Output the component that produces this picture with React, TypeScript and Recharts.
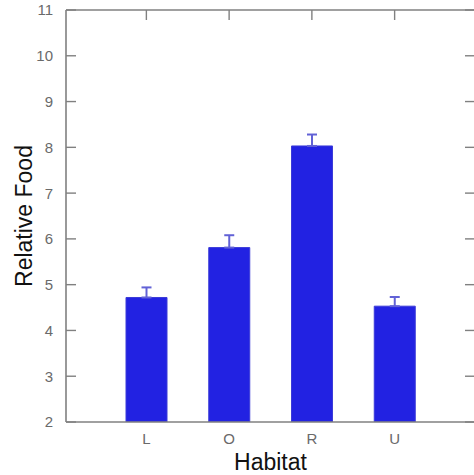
import {
  Bar,
  BarChart,
  ErrorBar,
  XAxis,
  YAxis,
} from "recharts";

const habitats = ["L", "O", "R", "U"];
const meanFood = [4.72, 5.81, 8.03, 4.53];
const stdErr = [0.22, 0.27, 0.25, 0.2];
const yTicks = [2, 3, 4, 5, 6, 7, 8, 9, 10, 11];

const AXIS = "#808080";
const BAR = "#2222e2";
const ERR = "#6262d6";
const FONT = "'Liberation Sans', Arial, sans-serif";
const TICK_LEN = 10;
const LEFT_GAP = 13;

const data = habitats.map((h, i) => ({
  habitat: h,
  food: meanFood[i],
  // only the upper whisker is drawn
  err: [0, stdErr[i]],
}));

// inward tick mark + label for the left axis
function LeftTick(props: any) {
  const { x, y, payload } = props;
  return (
    <g>
      <line
        x1={x + LEFT_GAP}
        x2={x + LEFT_GAP + TICK_LEN}
        y1={y}
        y2={y}
        stroke={AXIS}
        strokeWidth={1.4}
      />
      <text
        x={x}
        y={y}
        dy="0.36em"
        textAnchor="end"
        fill="#6a6a6a"
        fontSize={15}
        fontFamily={FONT}
      >
        {payload.value}
      </text>
    </g>
  );
}

function TopTick(props: any) {
  const { x, y } = props;
  return (
    <line x1={x} x2={x} y1={y} y2={y + TICK_LEN} stroke={AXIS} strokeWidth={1.4} />
  );
}

function RightTick(props: any) {
  const { x, y } = props;
  return (
    <line x1={x - TICK_LEN} x2={x} y1={y} y2={y} stroke={AXIS} strokeWidth={1.4} />
  );
}

export default function App() {
  return (
    <div
      style={{
        position: "absolute",
        left: 0,
        top: 0,
        width: 474,
        height: 475,
        overflow: "hidden",
        background: "#fff",
        fontFamily: FONT,
      }}
    >
      <BarChart
        width={476}
        height={475}
        data={data}
        margin={{ top: 9, right: 0, left: 0, bottom: 0 }}
      >
        <XAxis
          dataKey="habitat"
          height={53}
          padding={{ left: 39, right: 39 }}
          tickLine={false}
          tickSize={0}
          tickMargin={11}
          axisLine={{ stroke: AXIS, strokeWidth: 1.6 }}
          tick={{ fill: "#6a6a6a", fontSize: 15, fontFamily: FONT }}
          label={{
            value: "Habitat",
            position: "center",
            dy: 13,
            fill: "#111",
            fontSize: 23,
            fontFamily: FONT,
          }}
        />
        <XAxis
          xAxisId="top"
          orientation="top"
          dataKey="habitat"
          height={1}
          padding={{ left: 39, right: 39 }}
          tickLine={false}
          tickSize={0}
          tickMargin={0}
          tick={<TopTick />}
          axisLine={{ stroke: AXIS, strokeWidth: 1.6 }}
        />
        <YAxis
          width={66}
          domain={[2, 11]}
          ticks={yTicks}
          allowDataOverflow
          tickLine={false}
          tickSize={0}
          tickMargin={LEFT_GAP}
          tick={<LeftTick />}
          axisLine={{ stroke: AXIS, strokeWidth: 1.6 }}
          label={{
            value: "Relative Food",
            angle: -90,
            position: "center",
            dx: -9,
            fill: "#111",
            fontSize: 23,
            fontFamily: FONT,
          }}
        />
        <YAxis
          yAxisId="right"
          orientation="right"
          width={1}
          domain={[2, 11]}
          ticks={yTicks}
          allowDataOverflow
          tickLine={false}
          tickSize={0}
          tickMargin={0}
          tick={<RightTick />}
          axisLine={{ stroke: AXIS, strokeWidth: 1.6 }}
        />
        <Bar
          dataKey="food"
          fill={BAR}
          stroke="#3b3bd8"
          strokeWidth={1}
          barSize={41}
          isAnimationActive={false}
        >
          <ErrorBar
            dataKey="err"
            width={5}
            stroke={ERR}
            strokeWidth={2}
            direction="y"
          />
        </Bar>
        {/* invisible series so the top and right frame axes get drawn */}
        <Bar
          xAxisId="top"
          yAxisId="right"
          dataKey="food"
          fill="none"
          barSize={41}
          isAnimationActive={false}
        />
      </BarChart>
    </div>
  );
}
